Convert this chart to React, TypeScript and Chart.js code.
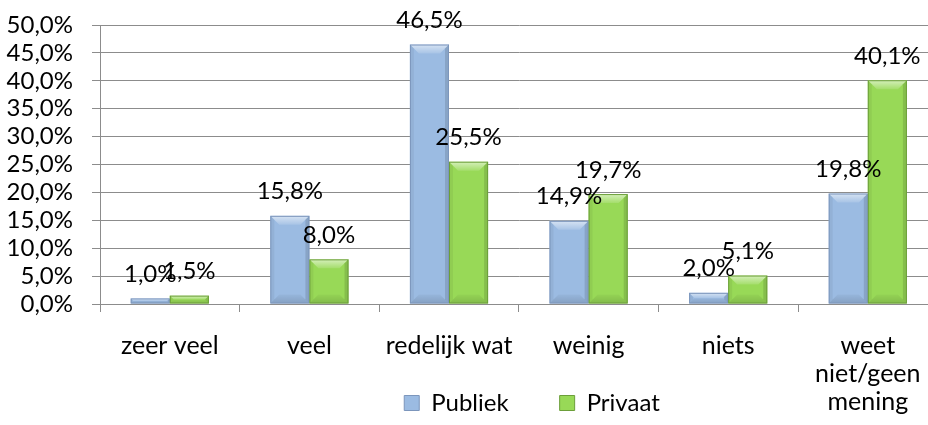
import React, { useEffect, useRef } from "react";
import { Chart, registerables } from "chart.js";

Chart.register(...registerables);

const categories: (string | string[])[] = [
  "zeer veel",
  "veel",
  "redelijk wat",
  "weinig",
  "niets",
  ["weet", "niet/geen", "mening"],
];
const publiek = [1.0, 15.8, 46.5, 14.9, 2.0, 19.8];
const privaat = [1.5, 8.0, 25.5, 19.7, 5.1, 40.1];
const seriesNames = ["Publiek", "Privaat"];
const yTicks = [0, 5, 10, 15, 20, 25, 30, 35, 40, 45, 50];

const FONT = "Lato, 'Liberation Sans', sans-serif";
const FS = 24;
const FS_CAT = 25;
const CANVAS_W = 1064;
const CANVAS_H = 425;
const PLOT_LEFT = 100;
const PLOT_RIGHT = 937.6;

const fmt = (v: number) => v.toFixed(1).replace(".", ",") + "%";

const bevel = {
  id: "bevel",
  afterDatasetsDraw(chart: any) {
    const ctx = chart.ctx;
    ctx.save();
    chart.data.datasets.forEach((ds: any, i: number) => {
      const meta = chart.getDatasetMeta(i);
      meta.data.forEach((bar: any) => {
        const l = bar.x - bar.width / 2;
        const r = bar.x + bar.width / 2;
        const t = Math.min(bar.y, bar.base);
        const B = Math.max(bar.y, bar.base);
        const h = B - t;
        const b = Math.min(9, h / 2);
        const sb = Math.min(4, h / 2);
        const poly = (pts: number[][], fill: any) => {
          ctx.beginPath();
          ctx.moveTo(pts[0][0], pts[0][1]);
          for (let k = 1; k < pts.length; k++) ctx.lineTo(pts[k][0], pts[k][1]);
          ctx.closePath();
          ctx.fillStyle = fill;
          ctx.fill();
        };
        const gTop = ctx.createLinearGradient(0, t, 0, t + b);
        gTop.addColorStop(0, "rgba(255,255,255,0.6)");
        gTop.addColorStop(1, "rgba(255,255,255,0.12)");
        poly([[l, t], [r, t], [r - b, t + b], [l + b, t + b]], gTop);
        const gBot = ctx.createLinearGradient(0, B - b, 0, B);
        gBot.addColorStop(0, "rgba(0,0,0,0.03)");
        gBot.addColorStop(1, "rgba(0,0,0,0.14)");
        poly([[l, B], [l + b, B - b], [r - b, B - b], [r, B]], gBot);
        poly([[l, t], [l + sb, t + sb], [l + sb, B - sb], [l, B]], "rgba(0,0,0,0.05)");
        poly([[r, t], [r - sb, t + sb], [r - sb, B - sb], [r, B]], "rgba(0,0,0,0.12)");
        ctx.strokeStyle = ds.borderColor;
        ctx.lineWidth = 1;
        ctx.strokeRect(l + 0.5, t + 0.5, r - l - 1, Math.max(h - 1, 0));
      });
    });
    ctx.restore();
  },
};

const valueLabels = {
  id: "valueLabels",
  afterDatasetsDraw(chart: any) {
    const ctx = chart.ctx;
    ctx.save();
    ctx.font = `${FS}px ${FONT}`;
    ctx.fillStyle = "#000";
    ctx.textAlign = "center";
    ctx.textBaseline = "alphabetic";
    chart.data.datasets.forEach((ds: any, i: number) => {
      const meta = chart.getDatasetMeta(i);
      meta.data.forEach((bar: any, j: number) => {
        ctx.fillText(fmt(ds.data[j]), bar.x, bar.y - 16.5);
      });
    });
    ctx.restore();
  },
};

export default function App() {
  const ref = useRef<HTMLCanvasElement | null>(null);
  useEffect(() => {
    if (!ref.current) return;
    const chart = new Chart(ref.current, {
      type: "bar",
      data: {
        labels: categories,
        datasets: [
          {
            label: seriesNames[0],
            data: publiek,
            backgroundColor: "#9BBBE2",
            borderColor: "#7C96BC",
            borderWidth: 0,
            categoryPercentage: 0.56,
            barPercentage: 1,
          },
          {
            label: seriesNames[1],
            data: privaat,
            backgroundColor: "#98D957",
            borderColor: "#6C9F3A",
            borderWidth: 0,
            categoryPercentage: 0.56,
            barPercentage: 1,
          },
        ],
      },
      options: {
        responsive: false,
        animation: false,
        devicePixelRatio: 1,
        layout: { padding: { top: 25, left: 0, right: 0, bottom: 0 } },
        plugins: {
          tooltip: { enabled: false },
          legend: {
            position: "bottom",
            labels: {
              boxWidth: 15,
              boxHeight: 15,
              padding: 3,
              color: "#000",
              font: { family: FONT, size: FS },
              generateLabels: (chart: any) =>
                chart.data.datasets.map((ds: any, i: number) => ({
                  text: i === 0 ? ds.label + "\u2002\u2002\u2002\u2002" : ds.label,
                  fillStyle: ds.backgroundColor,
                  strokeStyle: ds.borderColor,
                  lineWidth: 1,
                  hidden: false,
                  datasetIndex: i,
                })),
            },
          },
        },
        scales: {
          x: {
            offset: true,
            grid: {
              display: true,
              drawOnChartArea: false,
              drawTicks: true,
              tickLength: 8,
              color: "#8C8C8C",
              offset: true,
            },
            border: { display: true, color: "#8C8C8C" },
            ticks: {
              color: "#000",
              font: { family: FONT, size: FS_CAT, lineHeight: 28 / FS_CAT },
              padding: 20,
              maxRotation: 0,
              autoSkip: false,
            },
            afterFit: (s: any) => {
              s.height = 84;
              s._computeLabelArea = () => undefined;
            },
          },
          y: {
            min: 0,
            max: 50,
            afterBuildTicks: (s: any) => {
              s.ticks = yTicks.map((v) => ({ value: v }));
            },
            grid: {
              color: "#8C8C8C",
              tickLength: 8,
              drawTicks: true,
            },
            border: { display: true, color: "#8C8C8C" },
            ticks: {
              color: "#000",
              font: { family: FONT, size: FS },
              padding: 19,
              autoSkip: false,
              callback: (v: any) => fmt(Number(v)),
            },
            afterFit: (s: any) => {
              s.width = PLOT_LEFT;
              s.paddingTop = 10;
              s.paddingBottom = 10;
            },
          },
          yr: {
            position: "right",
            display: true,
            grid: { display: false, drawTicks: false },
            border: { display: false },
            ticks: { display: false },
            afterFit: (s: any) => {
              s.width = CANVAS_W - PLOT_RIGHT;
              s.paddingTop = 0;
              s.paddingBottom = 0;
            },
          },
        },
      } as any,
      plugins: [bevel, valueLabels],
    });
    return () => chart.destroy();
  }, []);
  return (
    <div
      style={{
        position: "fixed",
        left: 0,
        top: 0,
        width: 928,
        height: CANVAS_H,
        overflow: "hidden",
        background: "#fff",
      }}
    >
      <canvas ref={ref} width={CANVAS_W} height={CANVAS_H} style={{ display: "block" }} />
    </div>
  );
}
